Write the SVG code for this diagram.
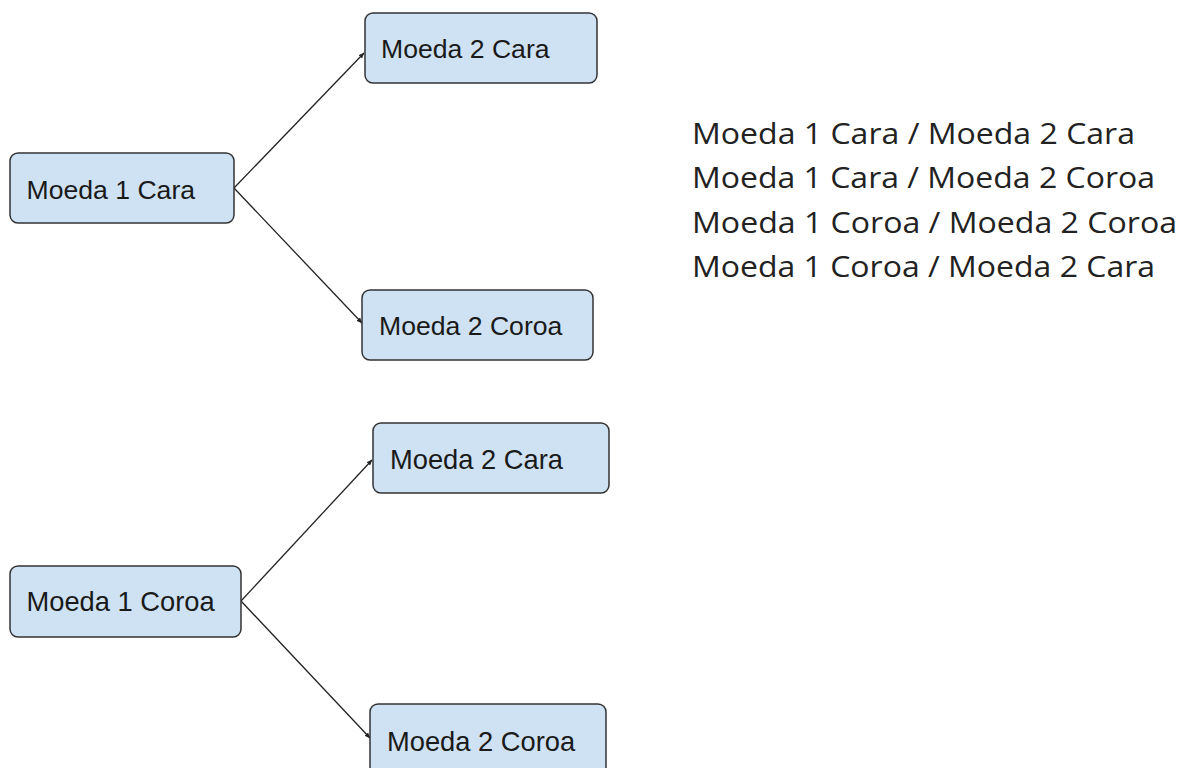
<svg xmlns="http://www.w3.org/2000/svg" width="1186" height="768" viewBox="0 0 1186 768">
<style>
.box{fill:#cfe2f3;stroke:#333;stroke-width:1.5}
.lbl{font-family:"Liberation Sans",Arial,sans-serif;font-size:26.6px;fill:#1a1a1a}
.lbl2{font-size:27.3px}
.edge{stroke:#222;stroke-width:1.3;fill:none;marker-end:url(#arr)}
.list{font-family:"Open Sans","Noto Sans",sans-serif;font-size:29px;fill:#222}
</style>
<defs>
<marker id="arr" viewBox="0 0 10 10" refX="9" refY="5" markerWidth="6" markerHeight="6" orient="auto" markerUnits="userSpaceOnUse">
<path d="M0,1 L10,5 L0,9 Z" fill="#222"/>
</marker>
</defs>
<rect width="1186" height="768" fill="#fff"/>
<g id="connectors">
<line class="edge" x1="234" y1="188" x2="364" y2="53"/>
<line class="edge" x1="234" y1="188" x2="362" y2="323"/>
<line class="edge" x1="241" y1="601" x2="372" y2="460"/>
<line class="edge" x1="241" y1="601" x2="370" y2="738"/>
</g>
<g id="n1"><rect class="box" x="10" y="153" width="224" height="70" rx="8"/><text class="lbl" x="26.5" y="198.5">Moeda 1 Cara</text></g>
<g id="n2"><rect class="box" x="365" y="13" width="232" height="70" rx="8"/><text class="lbl" x="381" y="58">Moeda 2 Cara</text></g>
<g id="n3"><rect class="box" x="362" y="290" width="231" height="70" rx="8"/><text class="lbl" x="379" y="335">Moeda 2 Coroa</text></g>
<g id="n4"><rect class="box" x="10" y="566" width="231" height="71" rx="8"/><text class="lbl lbl2" x="26.5" y="611">Moeda 1 Coroa</text></g>
<g id="n5"><rect class="box" x="373" y="423" width="236" height="70" rx="8"/><text class="lbl lbl2" x="390" y="469">Moeda 2 Cara</text></g>
<g id="n6"><rect class="box" x="370" y="704" width="236" height="72" rx="8"/><text class="lbl lbl2" x="387" y="751">Moeda 2 Coroa</text></g>
<g id="combos">
<text class="list" x="692" y="143.5" textLength="443" lengthAdjust="spacingAndGlyphs">Moeda 1 Cara / Moeda 2 Cara</text>
<text class="list" x="692" y="188" textLength="463" lengthAdjust="spacingAndGlyphs">Moeda 1 Cara / Moeda 2 Coroa</text>
<text class="list" x="692" y="232.5" textLength="485" lengthAdjust="spacingAndGlyphs">Moeda 1 Coroa / Moeda 2 Coroa</text>
<text class="list" x="692" y="277" textLength="463" lengthAdjust="spacingAndGlyphs">Moeda 1 Coroa / Moeda 2 Cara</text>
</g>
</svg>
